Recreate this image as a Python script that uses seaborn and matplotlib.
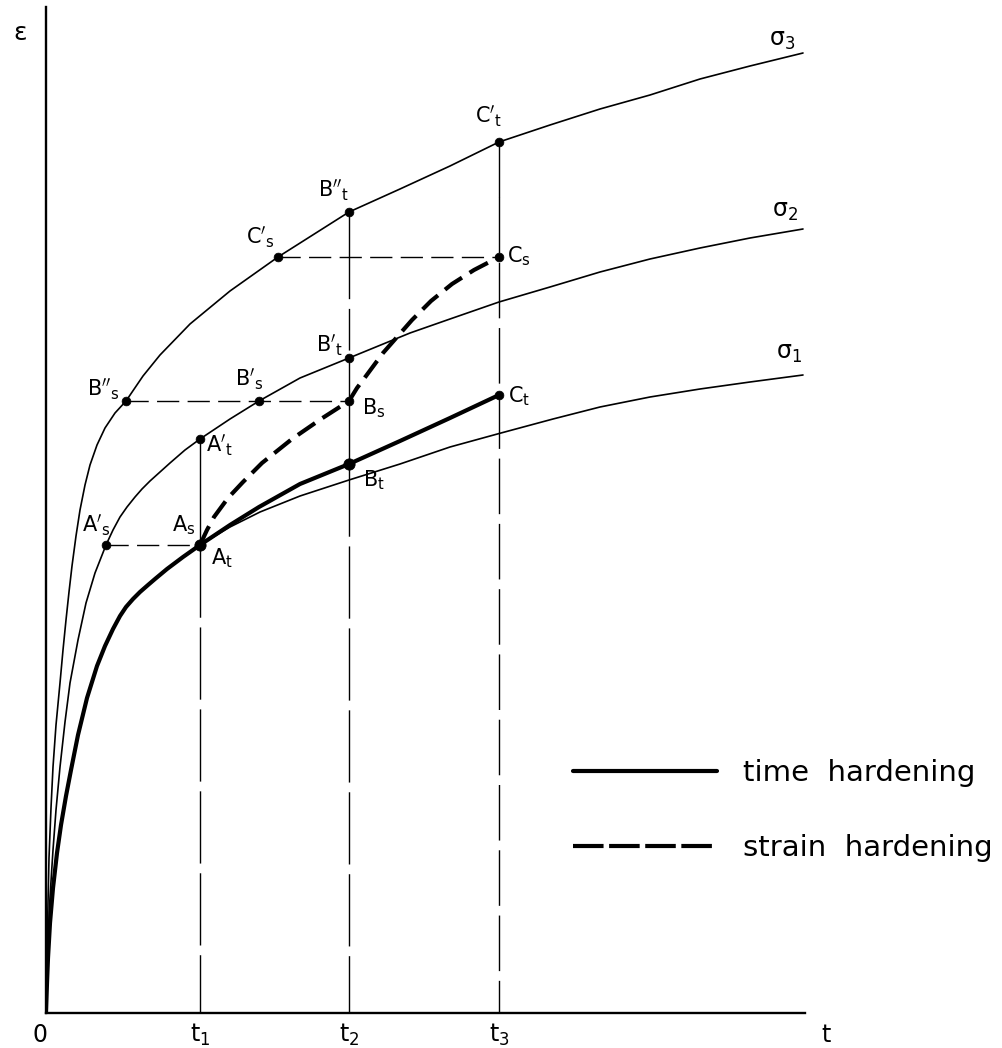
import matplotlib
matplotlib.use("Agg")
import matplotlib.pyplot as plt
import seaborn as sns
import pandas as pd
from matplotlib.lines import Line2D

# ---------------- data (arbitrary units: time t, strain eps) ----------------
sigma3_t = [0, 0.01, 0.02, 0.03, 0.05, 0.07, 0.10, 0.14, 0.17, 0.20, 0.23, 0.26, 0.30, 0.34, 0.39, 0.44,
            0.51, 0.59, 0.69, 0.80, 0.97, 1.14, 1.44, 1.84, 2.32, 3.03, 3.54, 4.04, 4.53, 5.04, 5.54,
            6.04, 6.54, 7.04, 7.57]
sigma3_e = [0, 0.55, 1.10, 1.55, 2.05, 2.46, 2.88, 3.30, 3.63, 3.93, 4.21, 4.47, 4.77, 5.03, 5.28, 5.48,
            5.68, 5.85, 6.00, 6.12, 6.37, 6.58, 6.89, 7.22, 7.56, 8.01, 8.24, 8.47, 8.71, 8.88, 9.04,
            9.18, 9.34, 9.47, 9.60]

sigma2_t = [0, 0.01, 0.02, 0.04, 0.07, 0.10, 0.14, 0.19, 0.24, 0.32, 0.40, 0.49, 0.60, 0.67, 0.74, 0.81,
            0.89, 0.96, 1.04, 1.14, 1.24, 1.39, 1.54, 1.84, 2.13, 2.54, 3.03, 3.64, 4.04, 4.53, 5.04,
            5.54, 6.04, 6.54, 7.04, 7.57]
sigma2_e = [0, 0.38, 0.73, 1.16, 1.63, 2.03, 2.46, 2.91, 3.30, 3.73, 4.10, 4.40, 4.68, 4.83, 4.96, 5.06,
            5.16, 5.24, 5.32, 5.41, 5.50, 5.63, 5.74, 5.94, 6.12, 6.35, 6.55, 6.80, 6.94, 7.11, 7.26,
            7.41, 7.54, 7.65, 7.75, 7.84]

sigma1_t = [0, 0.01, 0.02, 0.04, 0.07, 0.11, 0.15, 0.20, 0.25, 0.32, 0.41, 0.51, 0.59, 0.67, 0.74, 0.80,
            0.87, 0.94, 1.02, 1.09, 1.21, 1.37, 1.54, 1.84, 2.14, 2.54, 3.03, 3.54, 4.04, 4.55, 5.07,
            5.54, 6.04, 6.54, 7.04, 7.57]
sigma1_e = [0, 0.30, 0.55, 0.90, 1.25, 1.60, 1.88, 2.17, 2.43, 2.78, 3.15, 3.47, 3.67, 3.84, 3.97, 4.06,
            4.14, 4.21, 4.28, 4.34, 4.44, 4.56, 4.68, 4.86, 5.01, 5.17, 5.33, 5.49, 5.66, 5.80, 5.94,
            6.06, 6.16, 6.24, 6.31, 6.38]

time_hard_t = [1.54, 1.84, 2.13, 2.54, 3.03, 3.54, 4.04, 4.53]
time_hard_e = [4.68, 4.88, 5.06, 5.29, 5.49, 5.72, 5.95, 6.18]

strain_hard_t = [1.54, 1.61, 1.68, 1.82, 1.97, 2.16, 2.46, 2.75, 3.03, 3.11, 3.20, 3.37, 3.66, 3.85,
                 4.06, 4.28, 4.53]
strain_hard_e = [4.68, 4.83, 4.96, 5.15, 5.31, 5.50, 5.74, 5.94, 6.12, 6.25, 6.37, 6.60, 6.93, 7.12,
                 7.29, 7.43, 7.56]

point_names = ["A's", "At", "A't", "B''s", "B's", "Bs", "Bt", "B't", "B''t", "C's", "Cs", "Ct", "C't"]
point_t = [0.60, 1.54, 1.54, 0.80, 2.13, 3.03, 3.03, 3.03, 3.03, 2.32, 4.53, 4.53, 4.53]
point_e = [4.68, 4.68, 5.74, 6.12, 6.12, 6.12, 5.49, 6.55, 8.01, 7.56, 7.56, 6.18, 8.71]

t1, t2, t3 = 1.54, 3.03, 4.53
tick_labels = ["0", "t$_1$", "t$_2$", "t$_3$", "t"]
curve_labels = ["σ$_3$", "σ$_2$", "σ$_1$"]
legend_labels = ["time  hardening", "strain  hardening"]

# ---------------- style ----------------
sns.set_theme(style="white")
plt.rcParams["font.family"] = ["DejaVu Sans"]
plt.rcParams["mathtext.fontset"] = "dejavusans"
plt.rcParams["lines.scale_dashes"] = False
plt.rcParams["text.color"] = "black"

fig = plt.figure(figsize=(10.02, 10.48), dpi=100)
ax = fig.add_axes([46 / 1002, 35 / 1048, 759 / 1002, 1006 / 1048])
ax.set_xlim(0, 7.59)
ax.set_ylim(0, 10.06)
ax.set_facecolor("white")
for s in ["top", "right"]:
    ax.spines[s].set_visible(False)
for s in ["left", "bottom"]:
    ax.spines[s].set_linewidth(1.7)
    ax.spines[s].set_color("black")
ax.set_xticks([])
ax.set_yticks([])

K = "black"
thin = 1.2
thick = 3.0

def line(t, e, lw, ls="-", z=2):
    df = pd.DataFrame({"t": t, "e": e})
    sns.lineplot(data=df, x="t", y="e", sort=False, estimator=None, color=K,
                 linewidth=lw, linestyle=ls, ax=ax, legend=False, zorder=z)

# creep curves
line(sigma3_t, sigma3_e, thin)
line(sigma2_t, sigma2_e, thin)
line(sigma1_t, sigma1_e, thin)
# thick part of sigma1 up to t1
n1 = sigma1_t.index(t1) + 1
line(sigma1_t[:n1], sigma1_e[:n1], thick, z=3)
# time hardening
line(time_hard_t, time_hard_e, thick, z=3)
# strain hardening
line(strain_hard_t, strain_hard_e, thick, ls=(0, (15, 6.5)), z=3)

# construction lines
P = dict(zip(point_names, zip(point_t, point_e)))
vdash = (0, (52, 7))
hdash = (0, (16, 6))
# t1
line([t1, t1], [P["A't"][1], P["At"][1]], 1.0)
line([t1, t1], [P["At"][1], 0], 1.0, ls=vdash)
# t2
line([t2, t2], [P["B''t"][1], P["C's"][1]], 1.0)
line([t2, t2], [P["C's"][1], P["B't"][1]], 1.0, ls=(0, (30, 7)))
line([t2, t2], [P["B't"][1], P["Bt"][1]], 1.0)
line([t2, t2], [P["Bt"][1], 0], 1.0, ls=vdash)
# t3
line([t3, t3], [P["C't"][1], P["C't"][1] - 0.55], 1.0)
line([t3, t3], [P["C't"][1] - 0.55, 0], 1.0, ls=(0, (40, 7)))
# horizontals
line([P["A's"][0], t1], [P["A's"][1]] * 2, 1.0, ls=hdash)
line([P["B''s"][0], t2], [P["B''s"][1]] * 2, 1.0, ls=hdash)
line([P["C's"][0], t3], [P["C's"][1]] * 2, 1.0, ls=hdash)

# points
dots = pd.DataFrame({"t": point_t, "e": point_e, "name": point_names})
big = dots["name"].isin(["Bt", "At"])
sns.scatterplot(data=dots[~big], x="t", y="e", s=40, color=K, edgecolor=K, ax=ax, zorder=5, legend=False)
sns.scatterplot(data=dots[big], x="t", y="e", s=65, color=K, edgecolor=K, ax=ax, zorder=5, legend=False)
ax.set_xlabel("")
ax.set_ylabel("")

# point labels
def lab(base, primes, sub):
    return "$\\mathrm{%s}%s_\\mathrm{%s}$" % (base, primes, sub)

label_text = {
    "A's": lab("A", "'", "s"), "As": lab("A", "", "s"), "At": lab("A", "", "t"), "A't": lab("A", "'", "t"),
    "B''s": lab("B", "''", "s"), "B's": lab("B", "'", "s"), "B't": lab("B", "'", "t"),
    "Bs": lab("B", "", "s"), "Bt": lab("B", "", "t"), "B''t": lab("B", "''", "t"),
    "C's": lab("C", "'", "s"), "Cs": lab("C", "", "s"), "Ct": lab("C", "", "t"), "C't": lab("C", "'", "t"),
}
label_pos = {
    "A's": (0.50, 4.88), "As": (1.38, 4.88), "At": (1.76, 4.55), "A't": (1.73, 5.68),
    "B''s": (0.57, 6.24), "B's": (2.03, 6.34), "B't": (2.83, 6.68), "Bs": (3.28, 6.05),
    "Bt": (3.28, 5.33), "B''t": (2.87, 8.23), "C's": (2.14, 7.76), "Cs": (4.73, 7.57),
    "Ct": (4.73, 6.17), "C't": (4.42, 8.97),
}
for k, txt in label_text.items():
    x, y = label_pos[k]
    ax.text(x, y, txt, ha="center", va="center", fontsize=15, color=K)

# curve labels
for txt, (x, y) in zip(curve_labels, [(7.36, 9.73), (7.39, 8.02), (7.43, 6.60)]):
    ax.text(x, y, txt, ha="center", va="center", fontsize=17, color=K)

# axis labels
ax.text(-0.26, 9.80, "ε", ha="center", va="center", fontsize=18, color=K)
for txt, x in zip(tick_labels, [-0.06, t1, t2, t3, 7.80]):
    ax.text(x, -0.22, txt, ha="center", va="center", fontsize=17, color=K)

# legend
handles = [Line2D([], [], color=K, lw=thick),
           Line2D([], [], color=K, lw=thick, linestyle=(0, (22, 4)))]
leg = ax.legend(handles, legend_labels, loc="upper left", frameon=False, fontsize=21,
                handlelength=4.93, handletextpad=0.89, labelspacing=1.62, borderpad=0,
                borderaxespad=0, bbox_to_anchor=(573 / 1002, 1 - 759 / 1048),
                bbox_transform=fig.transFigure)
for txt in leg.get_texts():
    txt.set_color(K)

fig.savefig("out.png", dpi=100, facecolor="white")
